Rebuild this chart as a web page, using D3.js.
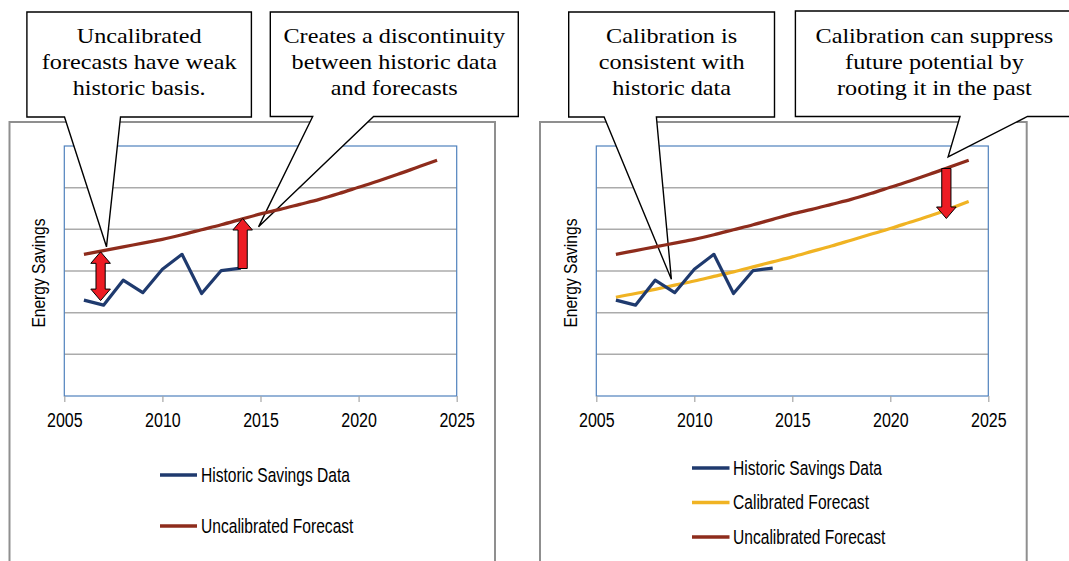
<!DOCTYPE html>
<html lang="en">
<head>
<meta charset="utf-8">
<title>Calibrated vs uncalibrated forecasts</title>
<script src="https://d3js.org/d3.v7.min.js"></script>
<style>
	body { margin: 0; background: #fff; }
	.sans { font-family: "Liberation Sans", Arial, sans-serif; fill: #000; }
	.callout text { font-family: "Liberation Serif", "Times New Roman", serif; font-size: 22px; fill: #000; }
</style>
</head>
<body>
<script>

// data
var forecastYears = [2006, 2007, 2008, 2009, 2010, 2011, 2012, 2013, 2014, 2015,
	2016, 2017, 2018, 2019, 2020, 2021, 2022, 2023, 2024];
var historicYears = [2006, 2007, 2008, 2009, 2010, 2011, 2012, 2013, 2014];
var historic = [2.30, 2.18, 2.78, 2.48, 3.04, 3.40, 2.46, 3.01, 3.07];
var uncalibrated = [3.40, 3.49, 3.58, 3.67, 3.76, 3.87, 3.99, 4.11, 4.24, 4.37,
	4.48, 4.60, 4.72, 4.86, 5.01, 5.16, 5.32, 5.49, 5.66];
var calibrated = [2.37, 2.46, 2.56, 2.66, 2.76, 2.87, 2.98, 3.10, 3.22, 3.34,
	3.47, 3.60, 3.74, 3.88, 4.02, 4.17, 4.32, 4.49, 4.67];
var xTicks = [2005, 2010, 2015, 2020, 2025];
var gridValues = [1, 2, 3, 4, 5];
var yTitle = "Energy Savings";

var seriesNames = ["Historic Savings Data", "Calibrated Forecast", "Uncalibrated Forecast"];
var colors = { "Historic Savings Data": "#1f3a6e", "Calibrated Forecast": "#f0b323", "Uncalibrated Forecast": "#8e2c1c" };

// callouts: text lines + pointer tip in data units of the panel it points into
var leftNotes = [
	{ lines: ["Uncalibrated", "forecasts have weak", "historic basis."], tip: [2007.15, 3.58] },
	{ lines: ["Creates a discontinuity", "between historic data", "and forecasts"], tip: [2014.9, 4.06] }
];
var rightNotes = [
	{ lines: ["Calibration is", "consistent with", "historic data"], tip: [2008.83, 2.80] },
	{ lines: ["Calibration can suppress", "future potential by", "rooting it in the past"], tip: [2022.95, 5.74] }
];
// red arrows: year, from value, to value, heads
var leftArrows = [
	{ year: 2006.85, from: 2.29, to: 3.46, both: true },
	{ year: 2014.09, from: 3.06, to: 4.26, both: false }
];
var rightArrows = [
	{ year: 2022.86, from: 5.46, to: 4.26, both: false }
];

//Width and height
var w = 1069;
var h = 561;

var svg = d3.select("body")
	.append("svg")
	.attr("width", w)
	.attr("height", h);

svg.append("rect").attr("width", w).attr("height", h).attr("fill", "#fff");

var panels = [
	{
		frame: [9.5, 122, 495, 600],
		plot: [64.3, 146, 456.7, 396],
		titleX: 44.7,
		series: ["Historic Savings Data", "Uncalibrated Forecast"],
		legend: { x0: 160, x1: 197, tx: 201, ys: [475, 526], dy: 6.8 },
		notes: leftNotes,
		boxes: [
			{ l: 26.9, t: 12, r: 251.4, b: 117, bl: 64.5, br: 120.5 },
			{ l: 270.3, t: 12, r: 518.3, b: 116.5, bl: 312.7, br: 373.6 }
		],
		arrows: leftArrows
	},
	{
		frame: [540, 122, 1026.7, 600],
		plot: [596.3, 146, 988.3, 396],
		titleX: 577,
		series: ["Historic Savings Data", "Calibrated Forecast", "Uncalibrated Forecast"],
		legend: { x0: 692, x1: 729.5, tx: 733, ys: [468, 502.5, 537], dy: 6.8 },
		notes: rightNotes,
		boxes: [
			{ l: 568.7, t: 12, r: 774.5, b: 117, bl: 604.1, br: 656.4 },
			{ l: 795.4, t: 11, r: 1073, b: 116.5, bl: 960, br: 1027.5 }
		],
		arrows: rightArrows
	}
];

var valuesByName = {
	"Historic Savings Data": { x: historicYears, y: historic, curve: d3.curveLinear },
	"Calibrated Forecast": { x: forecastYears, y: calibrated, curve: d3.curveMonotoneX },
	"Uncalibrated Forecast": { x: forecastYears, y: uncalibrated, curve: d3.curveMonotoneX }
};

function arrowPath(x, yFrom, yTo, both) {
	var hw = 9.8, sw = 4.6, hl = 11.5;
	var dir = yTo < yFrom ? -1 : 1;
	var pts = [];
	// tip side
	pts.push([x, yTo]);
	pts.push([x + hw, yTo - dir * hl]);
	pts.push([x + sw, yTo - dir * hl]);
	if (both) {
		pts.push([x + sw, yFrom + dir * hl]);
		pts.push([x + hw, yFrom + dir * hl]);
		pts.push([x, yFrom]);
		pts.push([x - hw, yFrom + dir * hl]);
		pts.push([x - sw, yFrom + dir * hl]);
	} else {
		pts.push([x + sw, yFrom]);
		pts.push([x - sw, yFrom]);
	}
	pts.push([x - sw, yTo - dir * hl]);
	pts.push([x - hw, yTo - dir * hl]);
	return "M" + pts.map(function (p) { return p.join(","); }).join("L") + "Z";
}

panels.forEach(function (p) {
	var xScale = d3.scaleLinear().domain([2005, 2025]).range([p.plot[0], p.plot[2]]);
	var yScale = d3.scaleLinear().domain([0, 6]).range([p.plot[3], p.plot[1]]);
	var g = svg.append("g");

	//outer chart frame
	g.append("rect")
		.attr("x", p.frame[0]).attr("y", p.frame[1])
		.attr("width", p.frame[2] - p.frame[0]).attr("height", p.frame[3] - p.frame[1])
		.attr("fill", "#fff").attr("stroke", "#8f8f8f").attr("stroke-width", 2);

	//gridlines
	g.selectAll(".grid")
		.data(gridValues)
		.enter()
		.append("line")
		.attr("x1", p.plot[0]).attr("x2", p.plot[2])
		.attr("y1", function (d) { return yScale(d); })
		.attr("y2", function (d) { return yScale(d); })
		.attr("stroke", "#ababab").attr("stroke-width", 1.5);

	//plot area border
	g.append("rect")
		.attr("x", p.plot[0]).attr("y", p.plot[1])
		.attr("width", p.plot[2] - p.plot[0]).attr("height", p.plot[3] - p.plot[1])
		.attr("fill", "none").attr("stroke", "#4f81bd").attr("stroke-width", 1.2);

	//X axis
	var xAxis = d3.axisBottom(xScale)
		.tickValues(xTicks)
		.tickFormat(d3.format("d"))
		.tickSize(6)
		.tickSizeOuter(0)
		.tickPadding(11);
	var ax = g.append("g")
		.attr("transform", "translate(0," + p.plot[3] + ")")
		.call(xAxis);
	ax.select(".domain").remove();
	ax.selectAll("line").attr("stroke", "#a6a6a6").attr("stroke-width", 1.2);
	ax.selectAll("text")
		.attr("class", "sans")
		.attr("font-size", "20px")
		.attr("font-family", "Liberation Sans, Arial, sans-serif")
		.attr("fill", "#000")
		.attr("transform", "scale(0.8,1)");

	//Y title
	g.append("text")
		.attr("class", "sans")
		.attr("font-size", "19px")
		.attr("text-anchor", "middle")
		.attr("transform", "translate(" + p.titleX + "," + yScale(2.95) + ") rotate(-90) scale(0.82,1)")
		.text(yTitle);

	//legend
	var lg = g.selectAll(".legend")
		.data(p.series)
		.enter()
		.append("g")
		.attr("transform", function (d, i) { return "translate(0," + p.legend.ys[i] + ")"; });
	lg.append("line")
		.attr("x1", p.legend.x0).attr("x2", p.legend.x1)
		.attr("stroke", function (d) { return colors[d]; })
		.attr("stroke-width", 3.5);
	lg.append("text")
		.attr("class", "sans")
		.attr("font-size", "19.5px")
		.attr("transform", "translate(" + p.legend.tx + "," + p.legend.dy + ") scale(0.8,1)")
		.text(function (d) { return d; });

	p.xScale = xScale;
	p.yScale = yScale;
});

//callouts on top of frames and gridlines
panels.forEach(function (p) {
	var c = svg.selectAll(null)
		.data(p.notes)
		.enter()
		.append("g")
		.attr("class", "callout");
	c.append("path")
		.attr("d", function (d, i) {
			var b = p.boxes[i];
			var tx = p.xScale(d.tip[0]), ty = p.yScale(d.tip[1]);
			return "M" + b.l + "," + b.t + "L" + b.r + "," + b.t + "L" + b.r + "," + b.b +
				"L" + b.br + "," + b.b + "L" + tx + "," + ty + "L" + b.bl + "," + b.b +
				"L" + b.l + "," + b.b + "Z";
		})
		.attr("fill", "#fff")
		.attr("stroke", "#000")
		.attr("stroke-width", 1.4)
		.attr("stroke-linejoin", "miter");
	c.each(function (d, i) {
		var b = p.boxes[i];
		var cx = (b.l + b.r) / 2;
		if (b.r > w) cx = 934.4;
		d3.select(this).selectAll("text")
			.data(d.lines)
			.enter()
			.append("text")
			.attr("text-anchor", "middle")
			.attr("transform", function (t, j) {
				return "translate(" + cx + "," + (43 + j * 26) + ") scale(1.1,1)";
			})
			.text(function (t) { return t; });
	});
});

//series lines and arrows
panels.forEach(function (p) {
	p.series.slice().reverse().forEach(function (name) {
		var s = valuesByName[name];
		var line = d3.line()
			.x(function (d, i) { return p.xScale(s.x[i]); })
			.y(function (d) { return p.yScale(d); })
			.curve(s.curve);
		svg.append("path")
			.datum(s.y)
			.attr("d", line)
			.attr("fill", "none")
			.attr("stroke", colors[name])
			.attr("stroke-width", 3.2)
			.attr("stroke-linejoin", "round");
	});

	svg.selectAll(null)
		.data(p.arrows)
		.enter()
		.append("path")
		.attr("d", function (d) {
			return arrowPath(p.xScale(d.year), p.yScale(d.from), p.yScale(d.to), d.both);
		})
		.attr("fill", "#ed1c24")
		.attr("stroke", "#000")
		.attr("stroke-width", 1);
});

</script>
</body>
</html>
